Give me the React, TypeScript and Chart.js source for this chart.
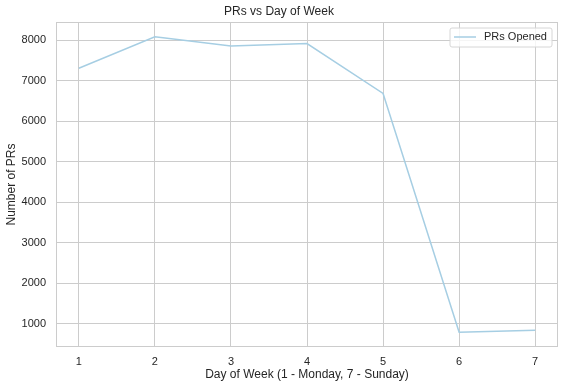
import React, { useEffect, useRef } from "react";
import { Chart, registerables } from "chart.js";

Chart.register(...registerables);

const days = [1, 2, 3, 4, 5, 6, 7];
const prsOpened = [7310, 8085, 7860, 7918, 6686, 795, 845];
const yTicks = [1000, 2000, 3000, 4000, 5000, 6000, 7000, 8000];
const seriesLabel = "PRs Opened";
const chartTitle = "PRs vs Day of Week";
const xTitle = "Day of Week (1 - Monday, 7 - Sunday)";
const yTitle = "Number of PRs";

const FONT = "'Liberation Sans', Arial, sans-serif";
const TEXT = "#262626";
const GRID = "#cccccc";
const LINE = "#a6cee3";

const frameAndLegend = {
  id: "frameAndLegend",
  afterDraw(chart: any) {
    const { ctx, chartArea } = chart;
    const { left, top, right, bottom } = chartArea;
    ctx.save();
    ctx.strokeStyle = GRID;
    ctx.lineWidth = 1;
    ctx.strokeRect(left + 0.5, top + 0.5, right - left - 1, bottom - top - 1);

    // legend inside chart area, upper right
    const bw = 102;
    const bh = 19;
    const bx = right - 6 - bw;
    const by = top + 6;
    ctx.fillStyle = "rgba(255,255,255,0.8)";
    ctx.strokeStyle = "#d6d6d6";
    ctx.beginPath();
    const r = 2;
    ctx.moveTo(bx + r, by);
    ctx.lineTo(bx + bw - r, by);
    ctx.quadraticCurveTo(bx + bw, by, bx + bw, by + r);
    ctx.lineTo(bx + bw, by + bh - r);
    ctx.quadraticCurveTo(bx + bw, by + bh, bx + bw - r, by + bh);
    ctx.lineTo(bx + r, by + bh);
    ctx.quadraticCurveTo(bx, by + bh, bx, by + bh - r);
    ctx.lineTo(bx, by + r);
    ctx.quadraticCurveTo(bx, by, bx + r, by);
    ctx.closePath();
    ctx.fill();
    ctx.stroke();

    const cy = by + bh / 2 - 0.5;
    ctx.strokeStyle = LINE;
    ctx.lineWidth = 1.5;
    ctx.beginPath();
    ctx.moveTo(bx + 4, cy);
    ctx.lineTo(bx + 26, cy);
    ctx.stroke();

    ctx.fillStyle = TEXT;
    ctx.font = `11px ${FONT}`;
    ctx.textBaseline = "middle";
    ctx.textAlign = "left";
    ctx.fillText(seriesLabel, bx + 34, cy);
    ctx.restore();
  },
};

export default function App() {
  const ref = useRef<HTMLCanvasElement | null>(null);

  useEffect(() => {
    document.body.style.margin = "0";
    const canvas = ref.current;
    if (!canvas) return;
    const chart = new Chart(canvas, {
      type: "line",
      data: {
        datasets: [
          {
            label: seriesLabel,
            data: days.map((d, i) => ({ x: d, y: prsOpened[i] })),
            borderColor: LINE,
            backgroundColor: LINE,
            borderWidth: 1.5,
            pointRadius: 0,
            tension: 0,
          },
        ],
      },
      options: {
        animation: false,
        responsive: false,
        devicePixelRatio: 1,
        layout: { padding: { left: 0, right: 6, top: 0, bottom: 0 } },
        plugins: {
          legend: { display: false },
          tooltip: { enabled: false },
          title: {
            display: true,
            text: chartTitle,
            color: TEXT,
            font: { family: FONT, size: 12, weight: "normal" },
            padding: { top: 4, bottom: 3.6 },
          },
        },
        scales: {
          x: {
            type: "linear",
            min: 0.7,
            max: 7.3,
            afterBuildTicks: (scale: any) => {
              scale.ticks = days.map((v) => ({ value: v }));
            },
            afterFit: (scale: any) => {
              scale.height = 41;
            },
            grid: { color: GRID, drawTicks: false, lineWidth: 1 },
            border: { display: false },
            ticks: {
              color: TEXT,
              font: { family: FONT, size: 11 },
              padding: 8,
              maxRotation: 0,
              autoSkip: false,
              callback: (v: any) => String(v),
            },
            title: {
              display: true,
              text: xTitle,
              color: TEXT,
              font: { family: FONT, size: 12 },
              padding: { top: 0, bottom: 6 },
            },
          },
          y: {
            type: "linear",
            min: 430,
            max: 8450,
            afterBuildTicks: (scale: any) => {
              scale.ticks = yTicks.map((v) => ({ value: v }));
            },
            afterFit: (scale: any) => {
              scale.width = 56;
            },
            grid: { color: GRID, drawTicks: false, lineWidth: 1 },
            border: { display: false },
            ticks: {
              color: TEXT,
              font: { family: FONT, size: 11 },
              padding: 10,
              autoSkip: false,
              callback: (v: any) => String(v),
            },
            title: {
              display: true,
              text: yTitle,
              color: TEXT,
              font: { family: FONT, size: 12 },
              padding: { top: 4, bottom: 0 },
            },
          },
        },
      },
      plugins: [frameAndLegend],
    } as any);
    return () => chart.destroy();
  }, []);

  return <canvas ref={ref} width={564} height={388} style={{ display: "block" }} />;
}
